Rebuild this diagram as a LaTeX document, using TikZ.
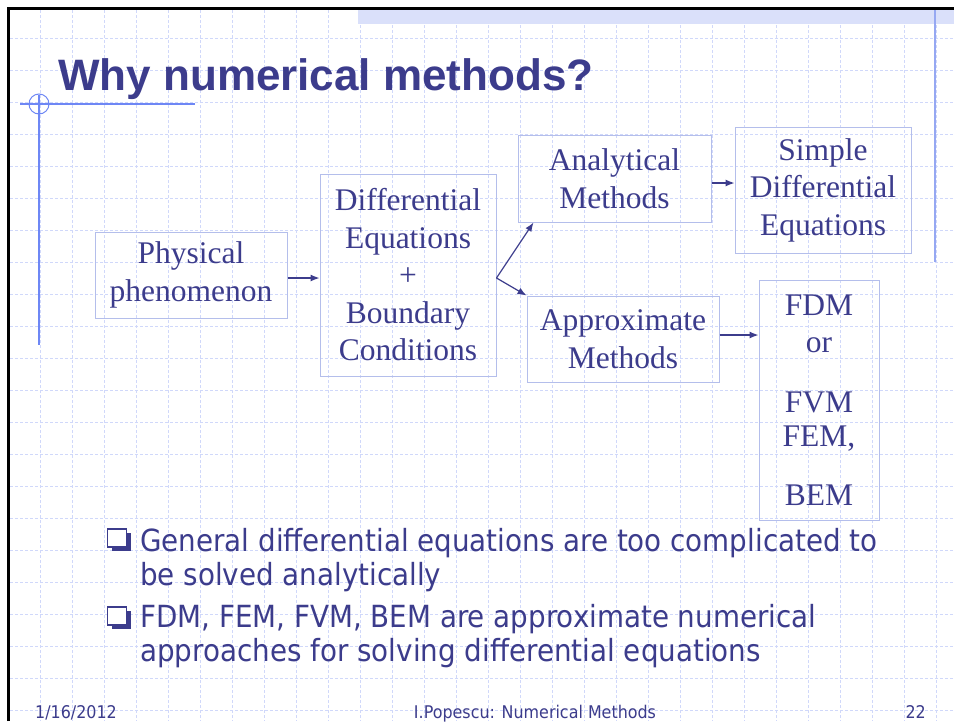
\documentclass[tikz,border=0pt]{standalone}
\usepackage{fontspec}
\setmainfont{Liberation Serif}
\newfontfamily\titlefont{Liberation Sans}
\newfontfamily\slidefont[FakeStretch=0.91]{DejaVu Sans}
\usetikzlibrary{positioning,calc,arrows.meta,shadows}
\definecolor{ink}{RGB}{60,60,140}
\definecolor{boxline}{RGB}{180,190,235}
\definecolor{gridblue}{RGB}{208,216,250}
\definecolor{decoblue}{RGB}{110,135,245}
\definecolor{sideblue}{RGB}{150,168,242}
\definecolor{bandblue}{RGB}{218,224,250}
\tikzset{
	x=1pt, y=-1pt, % one unit is one pixel of the slide, y goes down
	grid line/.style={gridblue, line width=0.8pt, dash pattern=on 3pt off 2pt},
	deco line/.style={decoblue, line width=1.5pt},
	my box/.style={rectangle, draw=boxline, line width=1pt, text=ink, align=center, inner sep=0pt,
		font=\fontsize{31.5}{37.5}\selectfont},
	my arrow/.style={-{Latex[length=9pt,width=7pt]}, ink, line width=1.2pt}
}

\begin{document}
\begin{tikzpicture}
	\tikzset{bullet mark/.style={rectangle, draw=ink, line width=1.6pt, fill=white, minimum width=19pt, minimum height=18pt, inner sep=0pt,
		drop shadow={shadow xshift=4pt, shadow yshift=-4pt, fill=ink, opacity=1}}}
	\tikzset{bullet text/.style={inner sep=0pt, text=ink, align=left, font=\slidefont\fontsize{30.5}{34}\selectfont}}
	\tikzset{foot/.style={inner sep=0pt, text=ink, font=\slidefont\fontsize{17.5}{19}\selectfont}}
	\useasboundingbox (0,0) rectangle (954,721);
	\fill[white] (0,0) rectangle (954,721);
	% slide background
	\foreach \x in {40,72,...,936} \draw[grid line] (\x,10) -- (\x,721);
	\foreach \y in {38,70,...,710} \draw[grid line] (10,\y) -- (954,\y);
	\fill[bandblue] (358,10) rectangle (954,24);
	\draw[line width=3pt] (8,721) -- (8,8) -- (954,8);
	\draw[sideblue, line width=1.5pt] (935,10) -- (935,262);
	\draw[deco line] (20,104) -- (195,104);
	\draw[deco line] (39,95) -- (39,345);
	\draw[deco line, line width=1pt] (39,104) circle[radius=10];
	\node[anchor=base west, inner sep=0pt, text=ink, font=\titlefont\bfseries\fontsize{44}{50}\selectfont] (title) at (58,90) {Why numerical methods?};
	% diagram
	\node[my box, minimum width=192pt, minimum height=86pt] (1) at (191,275) {Physical\\phenomenon};
	\node[my box, minimum width=176pt, minimum height=202pt, right=32pt of 1] (2) {Differential\\Equations\\+\\Boundary\\Conditions};
	\node[my box, minimum width=193pt, minimum height=87pt] (3) at (614.5,178.5) {Analytical\\Methods};
	\node[my box, minimum width=176pt, minimum height=126pt] (4) at (823,190) {Simple\\Differential\\Equations};
	\node[my box, minimum width=192pt, minimum height=86pt] (5) at (623,339) {Approximate\\Methods};
	\node[my box, minimum width=120pt, minimum height=240pt] (6) at (819,400) {FDM\\or\\[22pt]FVM\\[-3pt]FEM,\\[21pt]BEM};
	\coordinate (fork) at ($(2.east)+(0,3)$);
	\draw[my arrow] (1.east |- fork) -- (2.west |- fork);
	\draw[my arrow] (fork) -- ([xshift=16pt]3.south west);
	\draw[my arrow] (fork) -- (5.north west);
	\draw[my arrow] ($(3.east)+(0,4.5)$) -- ($(3.east -| 4.west)+(0,4.5)$);
	\draw[my arrow] ($(5.east)+(0,-4)$) -- ($(5.east -| 6.west)+(0,-4)$);
	% bullets
	\node[bullet mark] (q1) at (117,538) {};
	\node[bullet text, anchor=north west] (b1) at (140,528) {General differential equations are too complicated to\\be solved analytically};
	\node[bullet mark] (q2) at (117,616) {};
	\node[bullet text, anchor=north west] (b2) at (140,604) {FDM, FEM, FVM, BEM are approximate numerical\\approaches for solving differential equations};
	% footer
	\node[foot, anchor=base west] (date) at (35,718) {1/16/2012};
	\node[foot, anchor=base] (author) at (535,718) {I.Popescu: Numerical Methods};
	\node[foot, anchor=base east] (page) at (926,718) {22};
\end{tikzpicture}
\end{document}
